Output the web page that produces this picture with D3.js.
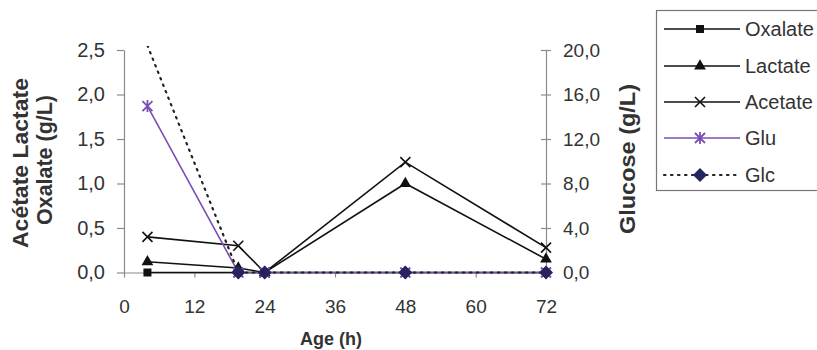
<!DOCTYPE html>
<html><head><meta charset="utf-8">
<script src="https://cdn.jsdelivr.net/npm/d3@7"></script>
<style>
html,body{margin:0;padding:0;background:#fff;}
svg{display:block;font-family:"Liberation Sans",Arial,sans-serif;}
</style></head>
<body><svg id="c" width="817" height="350"></svg>
<script>
const hours = [4, 19.5, 24, 48, 72];
const oxalate = [0, 0, 0, 0, 0];
const lactate = [0.12, 0.05, 0, 1.0, 0.15];
const acetate = [0.40, 0.30, 0, 1.24, 0.28];
const glu = [1.87, 0, 0, 0, 0];
const glc = [20.4, 0, 0, 0, 0];
const xTicks = [0, 12, 24, 36, 48, 60, 72];
const leftTicks = [0, 0.5, 1.0, 1.5, 2.0, 2.5];
const rightTicks = [0, 4, 8, 12, 16, 20];
const seriesNames = ["Oxalate", "Lactate", "Acetate", "Glu", "Glc"];

const svg = d3.select("#c");
const x = d3.scaleLinear().domain([0, 72]).range([124, 546]);
const yL = d3.scaleLinear().domain([0, 2.5]).range([272.5, 50]);
const yR = d3.scaleLinear().domain([0, 20]).range([272.5, 50]);
const fmt = d => d3.format(".1f")(d).replace(".", ",");
const axisCol = "#8a8a8a", textCol = "#333";

// axes
const gl = svg.append("g").attr("transform", "translate(124,0)")
  .call(d3.axisLeft(yL).tickValues(leftTicks).tickSize(7).tickSizeOuter(0).tickPadding(12).tickFormat(fmt));
const gr = svg.append("g").attr("transform", "translate(546,0)")
  .call(d3.axisRight(yR).tickValues(rightTicks).tickSize(5).tickSizeOuter(0).tickPadding(12).tickFormat(fmt));
gr.selectAll(".tick line").attr("x1", -5);
const gx = svg.append("g").attr("transform", "translate(0,272.5)")
  .call(d3.axisBottom(x).tickValues(xTicks).tickSize(5).tickSizeOuter(0).tickPadding(22).tickFormat(d3.format("d")));
[gl, gr, gx].forEach(g => {
  g.selectAll("path.domain").attr("stroke", axisCol).attr("stroke-width", 1.2);
  g.selectAll(".tick line").attr("stroke", axisCol).attr("stroke-width", 1.2);
  g.selectAll("text").attr("fill", textCol).style("font-size", "19px");
});
gl.selectAll("text").style("font-size", "20px");

// titles
function vtitle(tx, ty, txt, len) {
  svg.append("text").attr("transform", `translate(${tx},${ty}) rotate(-90)`).attr("text-anchor", "middle")
    .attr("font-weight", "bold").attr("font-size", 22).attr("fill", textCol)
    .attr("textLength", len).attr("lengthAdjust", "spacingAndGlyphs").text(txt);
}
vtitle(28, 163, "Acétate Lactate", 170);
vtitle(52, 160, "Oxalate (g/L)", 130);
vtitle(635, 159, "Glucose (g/L)", 150);
svg.append("text").attr("x", 331).attr("y", 345).attr("text-anchor", "middle")
  .attr("font-weight", "bold").attr("font-size", 18).attr("fill", textCol).text("Age (h)");

svg.append("defs").append("clipPath").attr("id", "clip")
  .append("rect").attr("x", 100).attr("y", 46).attr("width", 470).attr("height", 260);

const plot = svg.append("g").attr("clip-path", "url(#clip)");

function marker(g, type, cx, cy, col) {
  if (type === "square") {
    g.append("rect").attr("x", cx - 4).attr("y", cy - 4).attr("width", 8).attr("height", 8).attr("fill", "#111");
  } else if (type === "triangle") {
    g.append("path").attr("d", d3.symbol(d3.symbolTriangle, 60)()).attr("transform", `translate(${cx},${cy})`).attr("fill", "#111");
  } else if (type === "x") {
    g.append("path").attr("d", `M${cx-5},${cy-5}L${cx+5},${cy+5}M${cx-5},${cy+5}L${cx+5},${cy-5}`)
      .attr("stroke", "#111").attr("stroke-width", 1.6);
  } else if (type === "star") {
    g.append("path").attr("d", `M${cx-5},${cy-5}L${cx+5},${cy+5}M${cx-5},${cy+5}L${cx+5},${cy-5}M${cx},${cy-6}L${cx},${cy+6}`)
      .attr("stroke", col).attr("stroke-width", 1.8);
  } else if (type === "diamond") {
    g.append("path").attr("d", `M${cx},${cy-7}L${cx+7},${cy}L${cx},${cy+7}L${cx-7},${cy}Z`).attr("fill", col);
  }
}

const series = [
  {name: seriesNames[0], vals: oxalate, y: yL, col: "#111", dash: null, m: "square"},
  {name: seriesNames[1], vals: lactate, y: yL, col: "#111", dash: null, m: "triangle"},
  {name: seriesNames[2], vals: acetate, y: yL, col: "#111", dash: null, m: "x"},
  {name: seriesNames[3], vals: glu, y: yL, col: "#7a4fb5", dash: null, m: "star", mc: "#7a4fb5"},
  {name: seriesNames[4], vals: glc, y: yR, col: "#222", dash: "1.5,5.5", m: "diamond", mc: "#24245e"}
];

series.forEach(s => {
  const pts = hours.map((h, i) => [x(h), s.y(s.vals[i])]);
  plot.append("path").attr("d", d3.line()(pts)).attr("fill", "none")
    .attr("stroke", s.col).attr("stroke-width", s.dash ? 2.2 : 1.6)
    .attr("stroke-dasharray", s.dash).attr("stroke-linecap", s.dash ? "round" : null);
  const mg = plot.append("g");
  const top = s.y.domain()[1];
  pts.forEach((p, i) => { if (s.vals[i] <= top) marker(mg, s.m, p[0], p[1], s.mc || "#111"); });
});

// legend
svg.append("rect").attr("x", 656.5).attr("y", 10.5).attr("width", 170).attr("height", 180)
  .attr("fill", "#fff").attr("stroke", "#777").attr("stroke-width", 1.2);
const legY = [29, 66, 102, 138, 175];
series.forEach((s, i) => {
  const g = svg.append("g");
  g.append("line").attr("x1", 664).attr("x2", 740).attr("y1", legY[i]).attr("y2", legY[i])
    .attr("stroke", s.col).attr("stroke-width", s.dash ? 2.2 : 1.6).attr("stroke-dasharray", s.dash)
    .attr("stroke-linecap", s.dash ? "round" : null);
  marker(g, s.m, 700, legY[i], s.mc || "#111");
  g.append("text").attr("x", 745).attr("y", legY[i]).attr("dy", "0.36em").attr("font-size", 20)
    .attr("fill", textCol).text(s.name);
});
</script></body></html>
